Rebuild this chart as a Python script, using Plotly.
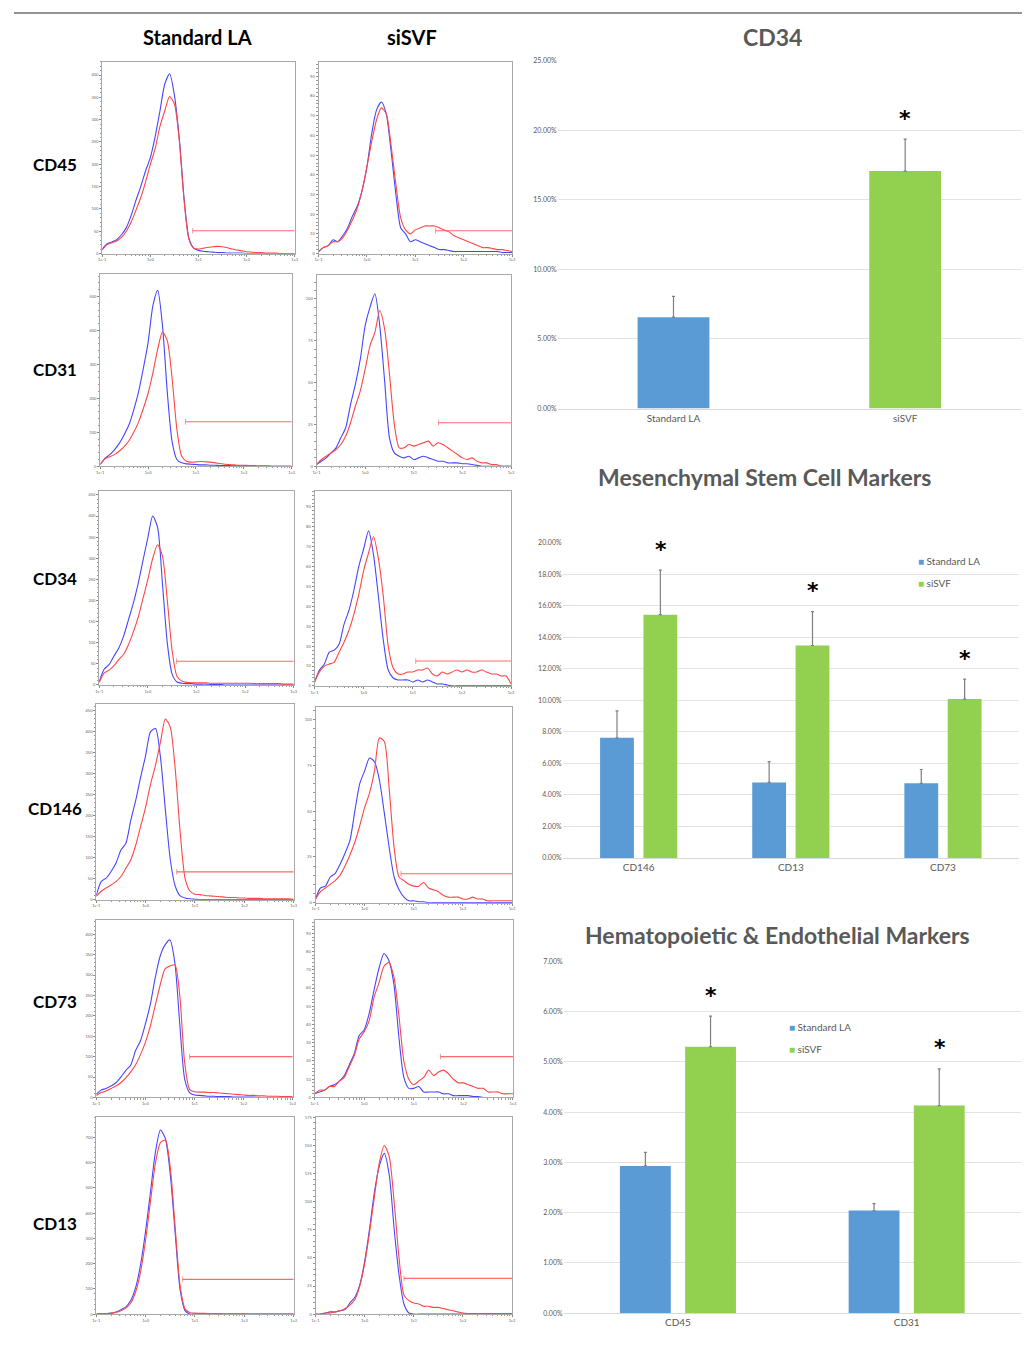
import plotly.graph_objects as go

W, H = 1026, 1345

# ---------------- histogram data (x in decades, log10 of fluorescence) ----------------
LOG_X = [-1.0, -0.9, -0.8, -0.7, -0.6, -0.5, -0.4, -0.3, -0.2, -0.1,
         0.0, 0.1, 0.2, 0.3, 0.4, 0.5, 0.6, 0.7, 0.8, 0.9,
         1.0, 1.1, 1.2, 1.3, 1.4, 1.5, 1.6, 1.7, 1.8, 1.9,
         2.0, 2.1, 2.2, 2.3, 2.4, 2.5, 2.6, 2.7, 2.8, 2.9, 3.0]

MARKERS = ["CD45", "CD31", "CD34", "CD146", "CD73", "CD13"]
GROUPS = ["Standard LA", "siSVF"]

CD45_STD_BLUE = [10, 22, 26, 31, 42, 58, 85, 119, 150, 185, 215, 262, 320, 380, 403, 355, 260, 125, 35, 12, 7, 5, 4, 3, 2, 2, 1, 1, 1, 1, 0, 0, 0, 0, 0, 0, 0, 0, 0, 0, 0]
CD45_STD_RED = [8, 20, 24, 28, 36, 50, 70, 97, 125, 160, 200, 235, 285, 320, 352, 335, 255, 120, 33, 12, 10, 12, 14, 15, 16, 15, 13, 10, 8, 6, 4, 3, 2, 2, 1, 1, 1, 0, 0, 0, 0]
CD45_SI_BLUE = [1, 3, 4, 7, 6, 9, 13, 19, 24, 32, 44, 61, 73, 77, 71, 52, 30, 13, 10, 6, 7, 6, 5, 4, 3, 2, 2, 1.5, 1, 1, 1, 1, 1, 1, 1, 1, 1, 1, 0.5, 0.5, 0.5]
CD45_SI_RED = [1, 3, 4, 6, 6, 8, 12, 17, 23, 32, 44, 57, 68, 74, 71, 55, 35, 18, 12, 10, 12, 13, 14, 14, 14, 13, 12, 11, 9, 8, 7, 6, 5, 4, 3, 3, 2.5, 2, 2, 1.5, 1]

CD31_STD_BLUE = [5, 24, 34, 49, 68, 93, 122, 166, 219, 288, 365, 473, 518, 414, 219, 73, 20, 10, 7, 6, 5, 4, 4, 3, 3, 2, 2, 2, 1, 1, 1, 1, 1, 0, 0, 0, 0, 0, 0, 0, 0]
CD31_STD_RED = [5, 22, 28, 35, 45, 58, 75, 100, 130, 170, 215, 275, 345, 395, 370, 260, 110, 30, 15, 12, 13, 14, 13, 12, 10, 8, 6, 5, 4, 3, 3, 2, 2, 1, 1, 1, 0, 0, 0, 0, 0]
CD31_SI_BLUE = [1, 3, 5, 8, 11, 17, 23, 37, 49, 64, 84, 95, 103, 84, 51, 17, 8, 6, 5, 6, 4, 5, 6, 5, 4, 3, 3, 2, 2, 2, 1.5, 1.5, 1, 0.5, 0, 0, 0, 0, 0, 0, 0]
CD31_SI_RED = [1, 4, 6, 8, 10, 13, 18, 26, 36, 45, 58, 72, 80, 93, 82, 55, 25, 11, 11, 13, 12, 13, 14, 15, 12, 14, 13, 11, 9, 7, 5, 4, 5, 3, 2, 2, 1, 1, 0, 0, 0]

CD34_STD_BLUE = [8, 37, 48, 68, 87, 115, 154, 193, 240, 295, 349, 400, 373, 240, 99, 25, 7, 4, 3, 3, 2, 2, 2, 1, 1, 1, 0, 0, 0, 0, 0, 0, 0, 0, 0, 0, 0, 0, 0, 0, 0]
CD34_STD_RED = [6, 28, 35, 45, 60, 72, 95, 125, 160, 205, 250, 300, 332, 305, 200, 80, 20, 9, 6, 5, 5, 5, 5, 4, 4, 4, 4, 4, 4, 4, 4, 4, 3, 3, 3, 3, 3, 3, 2, 2, 2]
CD34_SI_BLUE = [2, 8, 11, 17, 18, 21, 31, 38, 48, 60, 69, 78, 66, 45, 23, 8, 4, 3, 3, 3, 2, 3, 2, 3, 2, 1, 1, 0.5, 0, 0, 0, 0, 0, 0, 0, 0, 0, 0, 0, 0, 0]
CD34_SI_RED = [2, 7, 10, 11, 12, 17, 22, 28, 36, 46, 58, 67, 75, 64, 45, 20, 9, 6, 6, 7, 7, 8, 8, 9, 6, 5, 7, 6, 7, 8, 7, 8, 7, 7, 8, 7, 6, 6, 5, 5, 1]

CD146_STD_BLUE = [10, 43, 51, 67, 87, 118, 134, 189, 237, 292, 343, 400, 407, 339, 213, 95, 32, 9, 4, 2, 1, 0, 0, 0, 0, 0, 0, 0, 0, 0, 0, 0, 0, 0, 0, 0, 0, 0, 0, 0, 0]
CD146_STD_RED = [8, 20, 28, 35, 43, 55, 75, 95, 130, 175, 220, 275, 320, 375, 430, 410, 310, 160, 50, 20, 13, 12, 10, 9, 8, 7, 6, 5, 5, 4, 4, 3, 3, 3, 2, 2, 2, 2, 2, 2, 1]
CD146_SI_BLUE = [2, 8, 9, 14, 16, 21, 27, 34, 50, 65, 72, 79, 77, 67, 49, 30, 14, 7, 3, 1, 1, 0.5, 0.5, 0, 0, 0, 0, 0, 0, 0, 0, 0, 0, 0, 0, 0, 0, 0, 0, 0, 0]
CD146_SI_RED = [2, 6, 8, 10, 12, 15, 20, 26, 33, 42, 52, 60, 72, 90, 88, 62, 30, 14, 12, 10, 9, 9, 11, 8, 7, 6, 4, 3, 3, 3, 2, 2, 3, 2, 2, 1, 1, 1, 1, 1, 1]

CD73_STD_BLUE = [8, 18, 22, 28, 36, 50, 66, 79, 115, 139, 180, 228, 293, 346, 374, 386, 330, 180, 45, 12, 6, 5, 4, 3, 3, 2, 2, 2, 1, 1, 1, 1, 1, 0, 0, 0, 0, 0, 0, 0, 0]
CD73_STD_RED = [5, 12, 16, 22, 28, 36, 48, 62, 80, 105, 135, 175, 225, 275, 315, 322, 325, 250, 85, 20, 14, 13, 13, 12, 12, 11, 10, 9, 8, 7, 6, 5, 5, 4, 4, 3, 3, 3, 2, 2, 2]
CD73_SI_BLUE = [2, 3, 4, 6, 7, 9, 12, 18, 24, 34, 37, 46, 59, 71, 79, 75, 62, 33, 11, 5, 5, 6, 3, 3, 3, 3, 2, 2, 1, 1, 1, 1, 0.5, 0.5, 0, 0, 0, 0, 0, 0, 0]
CD73_SI_RED = [2, 4, 4, 6, 6, 9, 11, 17, 23, 32, 36, 42, 55, 63, 72, 74, 66, 45, 20, 10, 7, 9, 11, 15, 12, 14, 15, 13, 10, 8, 8, 7, 6, 5, 5, 3, 3, 3, 2, 2, 2]

CD13_STD_BLUE = [0, 1, 2, 4, 9, 18, 29, 55, 107, 199, 330, 487, 644, 730, 696, 552, 317, 94, 13, 0, 0, 0, 0, 0, 0, 0, 0, 0, 0, 0, 0, 0, 0, 0, 0, 0, 0, 0, 0, 0, 0]
CD13_STD_RED = [0, 1, 2, 3, 7, 14, 24, 45, 90, 170, 295, 450, 600, 680, 690, 580, 340, 110, 20, 6, 4, 3, 3, 2, 2, 2, 1, 1, 1, 1, 1, 0, 0, 0, 0, 0, 0, 0, 0, 0, 0]
CD13_SI_BLUE = [0, 0, 1, 2, 2, 3, 4, 10, 15, 26, 47, 76, 109, 132, 143, 124, 76, 35, 9, 1, 0, 0, 0, 0, 0, 0, 0, 0, 0, 0, 0, 0, 0, 0, 0, 0, 0, 0, 0, 0, 0]
CD13_SI_RED = [0, 0, 1, 1, 2, 3, 5, 8, 13, 25, 45, 73, 105, 135, 150, 140, 100, 50, 17, 12, 10, 9, 7, 7, 6, 6, 5, 4, 3, 2, 1, 0.5, 0.5, 0.5, 0.5, 0.5, 0.5, 0.5, 0.5, 0.5, 0.5]

# gate marker: start (decade) and level (count) for each panel, order: row-wise (Std, siSVF)
GATE_START = [0.88, 1.42, 0.78, 1.51, 0.59, 1.06, 0.63, 0.74, 0.90, 1.54, 0.75, 0.80]
GATE_LEVEL = [51, 11.6, 131, 26, 56, 12.5, 66, 15.8, 100, 22.4, 138, 31.8]

# y-axis max counts and tick step for each histogram panel
Y_MAX = [430, 97.5, 565, 114, 459, 98, 466, 107, 436, 97.6, 780, 175]
Y_STEP = [50, 10, 100, 25, 50, 10, 50, 25, 50, 10, 100, 25]

HIST = [
    (CD45_STD_BLUE, CD45_STD_RED), (CD45_SI_BLUE, CD45_SI_RED),
    (CD31_STD_BLUE, CD31_STD_RED), (CD31_SI_BLUE, CD31_SI_RED),
    (CD34_STD_BLUE, CD34_STD_RED), (CD34_SI_BLUE, CD34_SI_RED),
    (CD146_STD_BLUE, CD146_STD_RED), (CD146_SI_BLUE, CD146_SI_RED),
    (CD73_STD_BLUE, CD73_STD_RED), (CD73_SI_BLUE, CD73_SI_RED),
    (CD13_STD_BLUE, CD13_STD_RED), (CD13_SI_BLUE, CD13_SI_RED),
]

X_TICKVALS = [0.1, 1, 10, 100, 1000]
X_TICKTEXT = ["1e-1", "1e0", "1e1", "1e2", "1e3"]

# ---------------- bar chart data (percent) ----------------
CD34_GROUPS = ["Standard LA", "siSVF"]
CD34_VALUES = [6.57, 17.07]
CD34_ERR = [1.50, 2.29]

MSC_CATS = ["CD146", "CD13", "CD73"]
MSC_LA = [7.62, 4.79, 4.73]
MSC_LA_ERR = [1.71, 1.32, 0.88]
MSC_SVF = [15.44, 13.48, 10.08]
MSC_SVF_ERR = [2.83, 2.15, 1.26]

HEM_CATS = ["CD45", "CD31"]
HEM_LA = [2.93, 2.04]
HEM_LA_ERR = [0.27, 0.14]
HEM_SVF = [5.30, 4.13]
HEM_SVF_ERR = [0.61, 0.73]

BLUE_BAR = "#5b9bd5"
GREEN_BAR = "#92d050"
HIST_BLUE = "rgb(70,70,255)"
HIST_RED = "rgb(255,70,70)"
FONT = "Lato"

# ---------------- layout geometry (pixels) ----------------
HIST_BOX = [
    (99, 293, 57, 250), (317, 512, 57, 250),
    (97, 290, 271, 464), (315, 511, 272, 464),
    (96, 292, 489, 684), (313, 511, 489, 685),
    (93, 292, 703, 900), (314, 512, 706, 903),
    (93, 291, 920, 1099), (313, 513, 920, 1099),
    (93, 292, 1119, 1317), (314, 512, 1119, 1317),
]
ROW_LABEL_Y = [160, 367, 577, 808, 1002, 1226]
BAR_BOX = [(558, 1025, 56, 406), (563, 1023, 541, 858), (564, 1025, 962, 1316)]
LEGEND_POS = [(919, 559), (789, 1028)]


def dx(l, r):
    return [l / W, r / W]


def dy(t, b):
    return [1 - b / H, 1 - t / H]


fig = go.Figure()
layout = {}
annotations = []

minor_x = [m * 10 ** e for e in range(-1, 3) for m in range(2, 10)]

for i, ((blue, red), box) in enumerate(zip(HIST, HIST_BOX)):
    n = i + 1
    xa = "x" if n == 1 else f"x{n}"
    ya = "y" if n == 1 else f"y{n}"
    xs = [10 ** v for v in LOG_X]
    fig.add_trace(go.Scatter(x=xs, y=blue, mode="lines", xaxis=xa, yaxis=ya,
                             line=dict(color=HIST_BLUE, width=1.1, shape="spline", smoothing=0.7),
                             showlegend=False, hoverinfo="skip"))
    fig.add_trace(go.Scatter(x=xs, y=red, mode="lines", xaxis=xa, yaxis=ya,
                             line=dict(color=HIST_RED, width=1.1, shape="spline", smoothing=0.7),
                             showlegend=False, hoverinfo="skip"))
    fig.add_trace(go.Scatter(x=[10 ** GATE_START[i], 1000], y=[GATE_LEVEL[i], GATE_LEVEL[i]],
                             mode="lines+markers", xaxis=xa, yaxis=ya,
                             line=dict(color="rgba(255,90,90,0.9)", width=1.1),
                             marker=dict(symbol="line-ns-open", size=[4, 0],
                                         line=dict(color="rgba(255,90,90,0.9)", width=1)),
                             showlegend=False, hoverinfo="skip"))
    l, r, t, b = box
    layout["xaxis" if n == 1 else f"xaxis{n}"] = dict(
        domain=dx(l, r), anchor=ya, type="log", range=[-1, 3],
        tickvals=X_TICKVALS, ticktext=X_TICKTEXT, tickfont=dict(size=4, color="#666", family=FONT),
        ticks="outside", ticklen=2, tickcolor="#888",
        minor=dict(tickvals=minor_x, ticks="outside", ticklen=1.2, tickcolor="#999"),
        showline=True, mirror=True, linecolor="#a8a8a8", linewidth=1,
        showgrid=False, zeroline=False, fixedrange=True)
    layout["yaxis" if n == 1 else f"yaxis{n}"] = dict(
        domain=dy(t, b), anchor=xa, range=[0, Y_MAX[i]], dtick=Y_STEP[i],
        tickfont=dict(size=4, color="#666", family=FONT),
        ticks="outside", ticklen=2, tickcolor="#888",
        minor=dict(dtick=Y_STEP[i] / 5, ticks="outside", ticklen=1.2, tickcolor="#999"),
        showline=True, mirror=True, linecolor="#a8a8a8", linewidth=1,
        showgrid=False, zeroline=False, fixedrange=True)

# ---------------- bar charts ----------------
def err(a):
    return dict(type="data", array=a, arrayminus=[0] * len(a), symmetric=False,
                color="#7f7f7f", thickness=1.2, width=1.5)


# CD34
fig.add_trace(go.Bar(x=CD34_GROUPS, y=CD34_VALUES, xaxis="x13", yaxis="y13",
                     marker=dict(color=[BLUE_BAR, GREEN_BAR], line=dict(width=0)),
                     width=0.31, error_y=err(CD34_ERR), showlegend=False))
# MSC
fig.add_trace(go.Bar(x=MSC_CATS, y=MSC_LA, name="Standard LA", xaxis="x14", yaxis="y14",
                     marker=dict(color=BLUE_BAR, line=dict(width=0)), error_y=err(MSC_LA_ERR),
                     showlegend=False, offsetgroup="a"))
fig.add_trace(go.Bar(x=MSC_CATS, y=MSC_SVF, name="siSVF", xaxis="x14", yaxis="y14",
                     marker=dict(color=GREEN_BAR, line=dict(width=0)), error_y=err(MSC_SVF_ERR),
                     showlegend=False, offsetgroup="b"))
# HEM
fig.add_trace(go.Bar(x=HEM_CATS, y=HEM_LA, name="Standard LA", xaxis="x15", yaxis="y15",
                     marker=dict(color=BLUE_BAR, line=dict(width=0)), error_y=err(HEM_LA_ERR),
                     showlegend=False, offsetgroup="a"))
fig.add_trace(go.Bar(x=HEM_CATS, y=HEM_SVF, name="siSVF", xaxis="x15", yaxis="y15",
                     marker=dict(color=GREEN_BAR, line=dict(width=0)), error_y=err(HEM_SVF_ERR),
                     showlegend=False, offsetgroup="b"))

bar_ranges = [(25, 5), (20, 2), (7, 1)]
for k, (box, (ymax, step)) in enumerate(zip(BAR_BOX, bar_ranges)):
    n = 13 + k
    l, r, t, b = box
    layout[f"xaxis{n}"] = dict(domain=dx(l, r), anchor=f"y{n}", type="category",
                               showline=True, linecolor="#d9d9d9", linewidth=1, ticks="",
                               tickfont=dict(size=10, color="#595959", family=FONT),
                               showgrid=False, zeroline=False, fixedrange=True)
    layout[f"yaxis{n}"] = dict(domain=dy(t, b), anchor=f"x{n}", range=[0, ymax], dtick=step,
                               tickformat=".2f", ticksuffix="%", showline=False,
                               tickfont=dict(size=7, color="#595959", family=FONT),
                               gridcolor="#e3e3e3", gridwidth=1, zeroline=False, fixedrange=True)

# legends (swatch + label), drawn as text keyed to the series colours
for (lx, ly) in LEGEND_POS:
    for j, (name, col) in enumerate(zip(GROUPS, [BLUE_BAR, GREEN_BAR])):
        annotations.append(dict(x=lx / W, y=1 - (ly + 22 * j) / H, xref="paper", yref="paper",
                                text=f'<span style="color:{col}">■</span> {name}', showarrow=False,
                                xanchor="left", yanchor="middle",
                                font=dict(size=10, color="#595959", family=FONT)))

# asterisks above siSVF bars
def star(xref, yref, x, y, xshift):
    annotations.append(dict(x=x, y=y, xref=xref, yref=yref, text="<b>*</b>", showarrow=False,
                            xshift=xshift, yshift=21, yanchor="middle",
                            font=dict(size=22, color="black", family="DejaVu Sans")))


star("x13", "y13", CD34_GROUPS[1], CD34_VALUES[1] + CD34_ERR[1], 0)
for c, v, e in zip(MSC_CATS, MSC_SVF, MSC_SVF_ERR):
    star("x14", "y14", c, v + e, 22)
for c, v, e in zip(HEM_CATS, HEM_SVF, HEM_SVF_ERR):
    star("x15", "y15", c, v + e, 33)

# titles
TITLE_FONT = dict(size=23, color="#595959", family=FONT)
for text, x, y in [("<b>CD34</b>", 775, 32), ("<b>Mesenchymal Stem Cell Markers</b>", 766, 475),
                   ("<b>Hematopoietic &amp; Endothelial Markers</b>", 780, 936)]:
    annotations.append(dict(x=x / W, y=1 - y / H, xref="paper", yref="paper", text=text,
                            showarrow=False, xanchor="center", yanchor="middle", font=TITLE_FONT))

for g, x in zip(GROUPS, [195, 411]):
    annotations.append(dict(x=x / W, y=1 - 32 / H, xref="paper", yref="paper", text=f"<b>{g}</b>",
                            showarrow=False, xanchor="center", yanchor="middle",
                            font=dict(size=20, color="black", family=FONT)))
for m, y in zip(MARKERS, ROW_LABEL_Y):
    annotations.append(dict(x=51 / W, y=1 - y / H, xref="paper", yref="paper", text=f"<b>{m}</b>",
                            showarrow=False, xanchor="center", yanchor="middle",
                            font=dict(size=17, color="black", family=FONT)))

fig.update_layout(
    width=W, height=H, margin=dict(l=0, r=0, t=0, b=0),
    paper_bgcolor="white", plot_bgcolor="white",
    barmode="group", bargap=0.43, bargroupgap=0.22,
    annotations=annotations, showlegend=False,
    shapes=[dict(type="line", xref="paper", yref="paper", x0=10 / W, x1=1, y0=1 - 8 / H, y1=1 - 8 / H,
                 line=dict(color="#707070", width=1.5))],
    **layout,
)

PAGE_FIX = (
    "var s=document.createElement('style');"
    "s.textContent='html,body{margin:0;padding:0;overflow:hidden;width:1026px;height:1345px;}"
    "body>div{display:block;margin:0;padding:0;line-height:0;}"
    ".plotly-graph-div{display:block;margin:0;}';"
    "document.head.appendChild(s);window.scrollTo(0,0);"
)

fig.write_html("out.html", config={"displayModeBar": False}, post_script=PAGE_FIX)
